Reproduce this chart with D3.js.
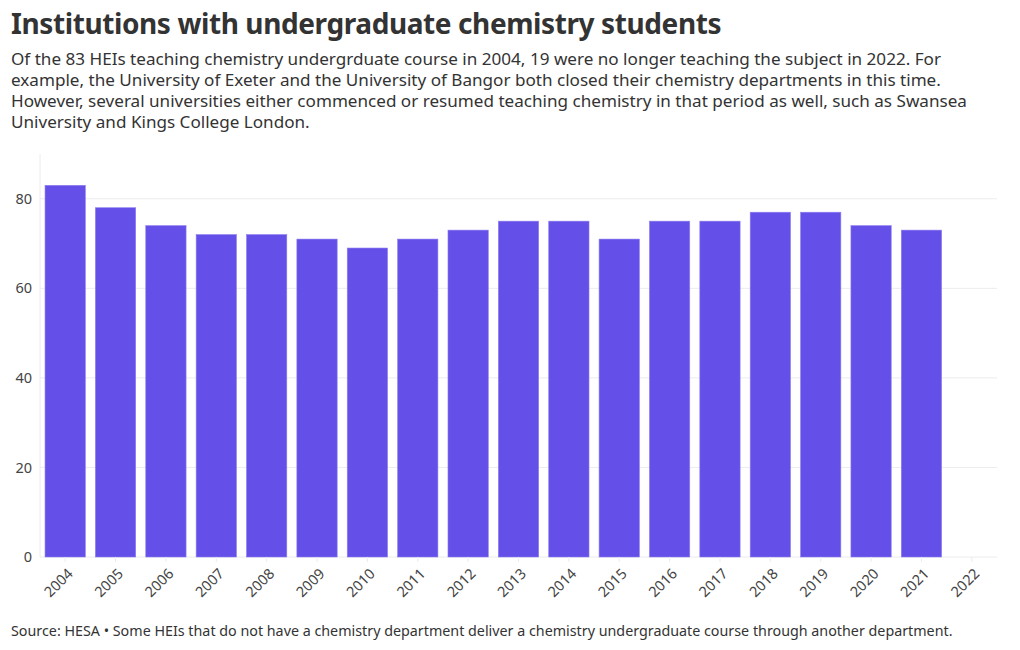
<!DOCTYPE html>
<html>
<head>
<meta charset="utf-8">
<script src="https://cdn.jsdelivr.net/npm/d3@7"></script>
<style>
  body { margin: 0; background: #fff; font-family: "Noto Sans", sans-serif; color: #333; }
  #chart { position: relative; width: 1020px; height: 650px; }
  h1 { position: absolute; left: 11px; top: 4px; margin: 0; font-size: 28px; font-weight: 700; letter-spacing: -0.4px; color: #333; }
  p.sub { position: absolute; left: 11px; top: 48px; margin: 0; width: 1005px; font-size: 17.1px; line-height: 21px; color: #333; white-space: nowrap; }
  p.src { position: absolute; left: 11px; top: 621px; margin: 0; font-size: 14.3px; color: #333; }
  .tick text { font-family: "Noto Sans", sans-serif; fill: #444; }
</style>
</head>
<body>
<div id="chart">
  <h1>Institutions with undergraduate chemistry students</h1>
  <p class="sub">Of the 83 HEIs teaching chemistry undergrduate course in 2004, 19 were no longer teaching the subject in 2022. For<br>example, the University of Exeter and the University of Bangor both closed their chemistry departments in this time.<br>However, several universities either commenced or resumed teaching chemistry in that period as well, such as Swansea<br>University and Kings College London.</p>
  <p class="src">Source: HESA • Some HEIs that do not have a chemistry department deliver a chemistry undergraduate course through another department.</p>
</div>
<script>
const years = ["2004","2005","2006","2007","2008","2009","2010","2011","2012","2013","2014","2015","2016","2017","2018","2019","2020","2021","2022"];
const institutions = [83, 78, 74, 72, 72, 71, 69, 71, 73, 75, 75, 71, 75, 75, 77, 77, 74, 73, null];
const yTicks = [0, 20, 40, 60, 80];

const width = 1020, height = 650;
const plot = { left: 40, right: 997, top: 154, bottom: 557 };

var svg = d3.select("#chart").append("svg")
    .attr("width", width)
    .attr("height", height)
    .style("position", "absolute")
    .style("left", 0).style("top", 0);

var x = d3.scaleBand()
    .domain(years)
    .range([plot.left, plot.right])
    .paddingInner(0.2)
    .paddingOuter(0.1);

var y = d3.scaleLinear()
    .domain([0, 90])
    .range([plot.bottom, plot.top]);

// gridlines
svg.append("g")
    .selectAll("line")
    .data(yTicks)
    .enter()
    .append("line")
    .attr("x1", plot.left)
    .attr("x2", plot.right)
    .attr("y1", d => y(d))
    .attr("y2", d => y(d))
    .attr("stroke", "#ececec")
    .attr("stroke-width", 1);

// left axis line
svg.append("line")
    .attr("x1", plot.left).attr("x2", plot.left)
    .attr("y1", plot.top).attr("y2", plot.bottom)
    .attr("stroke", "#ececec");

// y axis labels
var yAxis = svg.append("g")
    .attr("transform", "translate(" + (plot.left - 8) + ",0)")
    .call(d3.axisLeft(y).tickValues(yTicks).tickSize(0).tickPadding(0));
yAxis.select(".domain").remove();
yAxis.selectAll("text").attr("font-size", 14.5).attr("fill", "#444");

// bars
svg.append("g")
    .selectAll("rect")
    .data(years.map((yr, i) => ({ year: yr, value: institutions[i] })).filter(d => d.value != null))
    .enter()
    .append("rect")
    .attr("x", d => x(d.year))
    .attr("width", x.bandwidth())
    .attr("y", d => y(d.value))
    .attr("height", d => y(0) - y(d.value))
    .attr("fill", "#6450e8")
    .attr("stroke", "#8a7cef")
    .attr("stroke-width", 0.6);

// x axis
var xAxis = svg.append("g")
    .attr("transform", "translate(0," + plot.bottom + ")")
    .call(d3.axisBottom(x).tickSize(5).tickPadding(4));
xAxis.select(".domain").remove();
xAxis.selectAll("line").attr("stroke", "#ececec");
xAxis.selectAll("text")
    .attr("font-size", 14.5)
    .attr("fill", "#444")
    .attr("text-anchor", "end")
    .attr("x", 0)
    .attr("y", 0)
    .attr("dy", "0.35em")
    .attr("transform", "translate(5,14) rotate(-45)");
</script>
</body>
</html>
